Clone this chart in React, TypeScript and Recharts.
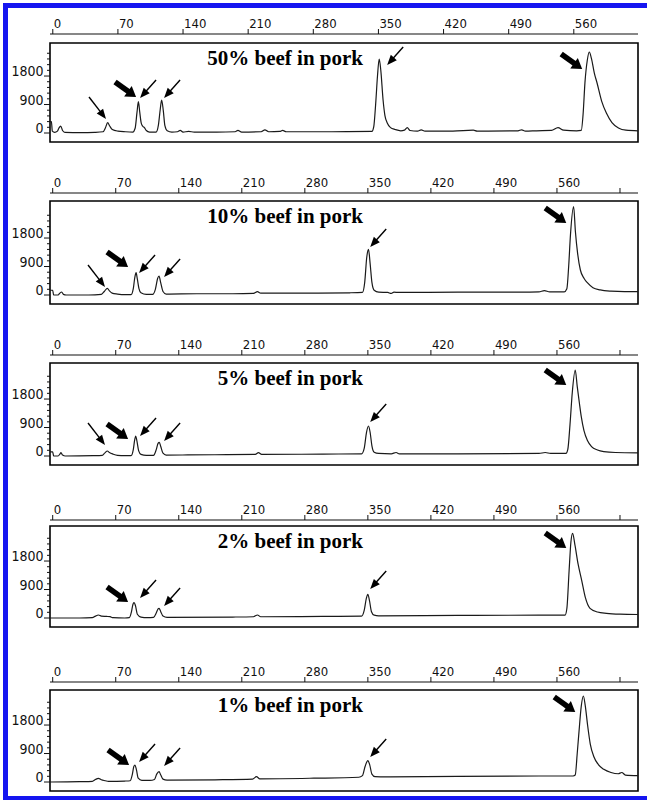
import React from "react";
import { ComposedChart, Line, XAxis, YAxis, ReferenceArea, ReferenceDot } from "recharts";

type Pt = [number, number];
type ArrowKind = "ul" | "ur" | "bold";
type Arrow = [number, number, ArrowKind];

const xTicks = [0, 70, 140, 210, 280, 350, 420, 490, 560, 630];
const yTicks = [0, 180, 360, 540, 720, 900, 1080, 1260, 1440, 1620, 1800, 1980, 2160, 2340, 2520];
const yLabelled = [0, 900, 1800];

const titles = [
  "50% beef in pork",
  "10% beef in pork",
  "5% beef in pork",
  "2% beef in pork",
  "1% beef in pork",
];

// traces, [size, signal]
const trace50: Pt[] = [
  [-3, 360], [-1.5, 360], [-0.5, 60], [2, 20], [5, 60], [6.5, 150], [8.5, 220], [10.5, 80], [13, 20],
  [30, 10], [45, 20], [54, 40], [56.5, 160], [59, 325], [61, 230], [64, 110], [70, 60], [78, 40],
  [86, 30], [88.5, 150], [90.5, 650], [92, 990], [93.5, 650], [95, 320], [96.5, 220], [98.5, 170],
  [100.5, 80], [104, 30], [111, 30], [113.5, 250], [115.5, 750], [117, 1043], [118.8, 700],
  [120.5, 230], [123, 70], [128, 30], [134, 40], [137, 80], [140, 30], [146, 50], [152, 30],
  [176, 30], [196, 40], [199, 80], [203, 30], [224, 40], [228, 100], [232, 40], [244, 50], [247, 80],
  [251, 40], [300, 40], [343, 50], [345, 200], [347, 900], [349, 1800], [350.8, 2338], [352.5, 2000],
  [355, 1043], [357, 550], [359.5, 316], [363, 170], [368, 110], [374, 70], [378, 90], [381, 170],
  [384, 80], [392, 60], [396, 100], [400, 60], [430, 60], [452, 90], [456, 60], [500, 70], [504, 100],
  [508, 60], [520, 70], [536, 80], [543, 170], [549, 90], [563, 70], [568, 80], [570, 600],
  [572, 1600], [574.5, 2300], [576.6, 2560], [579, 2350], [582, 1900], [585, 1580], [590, 1000],
  [595, 630], [601, 330], [608, 160], [616, 90], [629, 70],
];

const trace10: Pt[] = [
  [-3, 150], [0, 150], [1, 0], [6, 0], [8, 60], [10, 95], [12, 20], [15, 0], [40, 0], [54, 20],
  [57.5, 120], [60.7, 212], [63, 130], [66, 60], [72, 30], [80, 10], [87, 10], [89.5, 200],
  [91.2, 560], [92.6, 705], [94, 500], [95.8, 200], [98, 70], [104, 20], [111, 20], [114, 180],
  [116.5, 520], [118.1, 600], [120, 380], [122.5, 110], [126, 30], [160, 40], [200, 40], [223, 50],
  [227.4, 105], [231, 60], [280, 60], [330, 70], [344, 80], [346.5, 400], [348.8, 1200],
  [350.7, 1443], [352.5, 1000], [354.5, 400], [357, 150], [362, 90], [372, 80], [376, 50], [379, 90],
  [384, 80], [450, 90], [520, 90], [540, 100], [546, 140], [552, 100], [568, 100], [571, 200],
  [573, 900], [575, 1900], [578.5, 2790], [580.5, 2000], [583, 1300], [586, 790], [590, 530],
  [594, 380], [600, 230], [608, 160], [620, 120], [635, 105], [650, 105],
];

const trace5: Pt[] = [
  [-3, 130], [0, 130], [1, 0], [6, 0], [8, 60], [9.2, 105], [11, 30], [14, 0], [45, 10], [55, 20],
  [58, 100], [60.7, 158], [63, 110], [67, 60], [72, 20], [80, 10], [87, 10], [89.5, 200], [91, 500],
  [92.2, 632], [93.5, 480], [95.5, 160], [98, 50], [104, 20], [112, 20], [115, 200], [117, 400],
  [118.4, 432], [120, 300], [122.5, 90], [126, 30], [180, 40], [225, 50], [228.5, 105], [232, 50],
  [300, 60], [343, 70], [346, 250], [348.5, 750], [350.7, 948], [352.5, 750], [354.5, 320],
  [357, 120], [362, 80], [376, 70], [381.4, 110], [385, 70], [450, 70], [540, 80], [547, 110],
  [553, 80], [570, 80], [572, 200], [574.5, 1000], [577, 2000], [580.3, 2718], [582.5, 2200],
  [585, 1650], [587, 1242], [590, 800], [594, 480], [598.4, 295], [605, 190], [612, 140],
  [625, 110], [650, 100],
];

const trace2: Pt[] = [
  [-3, 0], [30, 0], [44, 10], [47.5, 60], [50.7, 95], [54, 60], [60, 50], [63.7, 41], [67, 10],
  [80, 0], [85, 10], [87.5, 200], [89, 420], [90.3, 484], [92, 380], [94, 120], [98, 30], [105, 10],
  [112, 20], [115, 160], [117, 290], [118.1, 306], [120, 200], [122.5, 60], [127, 20], [200, 30],
  [223, 40], [227.4, 95], [231, 40], [300, 50], [343, 60], [346, 250], [348.3, 620], [350, 749],
  [351.8, 550], [354, 200], [357, 90], [362, 70], [450, 80], [540, 90], [569, 90], [571, 300],
  [573.5, 1500], [575.5, 2400], [577.4, 2676], [580, 2300], [583.5, 1700], [587.4, 1200],
  [591.5, 650], [596.7, 306], [605, 190], [615, 147], [630, 120], [650, 110],
];

const trace1: Pt[] = [
  [-3, 0], [30, 10], [44, 20], [47.5, 80], [50.7, 117], [54, 70], [58.5, 40], [62, 20], [80, 30],
  [86, 40], [88.5, 250], [90, 480], [91.4, 537], [93, 380], [95, 120], [99, 50], [108, 50], [113, 80],
  [115.5, 250], [118.1, 326], [120, 220], [122.5, 90], [127, 60], [180, 70], [222, 90],
  [226.3, 168], [230, 100], [290, 120], [340, 150], [344, 200], [347, 500], [350, 674], [352, 550],
  [354.5, 250], [358, 170], [370, 160], [450, 180], [540, 190], [578, 190], [580.3, 220],
  [582.5, 900], [584.5, 1600], [587, 2400], [589.3, 2718], [591.5, 2400], [594, 1800], [597, 1200],
  [601, 800], [606, 550], [612, 400], [620, 300], [628, 260], [632, 300], [636, 220], [650, 200],
];

// arrow tips, [size, signal, kind]
const arrows50: Arrow[] = [
  [57.2, 442, "ul"], [89.5, 1138, "bold"], [93.8, 1106, "ur"], [119.6, 1106, "ur"],
  [359.4, 2149, "ur"], [569, 2022, "bold"],
];
const arrows10: Arrow[] = [
  [58.1, 253, "ul"], [83.7, 885, "bold"], [95.9, 695, "ur"], [123.7, 569, "ur"],
  [352.6, 1517, "ur"], [570.3, 2275, "bold"],
];
const arrows5: Arrow[] = [
  [58.1, 348, "ul"], [83.7, 537, "bold"], [97, 632, "ur"], [123.7, 474, "ur"],
  [352.6, 1074, "ur"], [570.3, 2244, "bold"],
];
const arrows2: Arrow[] = [
  [83.7, 506, "bold"], [97, 632, "ur"], [123.7, 379, "ur"], [352.6, 916, "ur"],
  [570.3, 2212, "bold"],
];
const arrows1: Arrow[] = [
  [84.8, 537, "bold"], [95.9, 632, "ur"], [123.7, 506, "ur"], [352.6, 790, "ur"],
  [580.3, 2212, "bold"],
];

const traces = [trace50, trace10, trace5, trace2, trace1];
const arrows = [arrows50, arrows10, arrows5, arrows2, arrows1];

// page rows in px: top axis line, box top/bottom, baseline
const layout = [
  { axisY: 34, boxTop: 43, boxBottom: 142, zeroY: 133, xMax: 629 },
  { axisY: 193, boxTop: 201, boxBottom: 304, zeroY: 295, xMax: 650 },
  { axisY: 355, boxTop: 363, boxBottom: 465, zeroY: 456, xMax: 650 },
  { axisY: 520, boxTop: 526, boxBottom: 627, zeroY: 618, xMax: 650 },
  { axisY: 682, boxTop: 690, boxBottom: 791, zeroY: 782, xMax: 650 },
];

const W = 647;
const X_MIN = -3;
const AXIS_H = 30;
const PER_PX = 31.6;
const INK = "#111";
const NARROW = "'Liberation Sans Narrow', 'Arial Narrow', 'DejaVu Sans Condensed', 'Liberation Sans', sans-serif";

const ARROW = {
  ul: { dx: -17, dy: -22, w: 1.4, head: 10, half: 4 },
  ur: { dx: 16, dy: -18, w: 1.4, head: 10, half: 4 },
  bold: { dx: -21, dy: -15, w: 5.5, head: 10, half: 6.5 },
};

function ArrowMark({ cx, cy, kind }: { cx: number; cy: number; kind: ArrowKind }) {
  if (cx == null || cy == null) return null;
  const a = ARROW[kind];
  const len = Math.hypot(a.dx, a.dy);
  const ux = -a.dx / len;
  const uy = -a.dy / len;
  const bx = cx - ux * a.head;
  const by = cy - uy * a.head;
  const nx = -uy;
  const ny = ux;
  return (
    <g>
      <line x1={cx + a.dx} y1={cy + a.dy} x2={bx + ux} y2={by + uy} stroke="#000" strokeWidth={a.w} />
      <polygon
        points={`${cx},${cy} ${bx + nx * a.half},${by + ny * a.half} ${bx - nx * a.half},${by - ny * a.half}`}
        fill="#000"
      />
    </g>
  );
}

function XTick(props: any) {
  const { x, y, payload } = props;
  return (
    <g>
      <line x1={x} x2={x} y1={y - 5} y2={y} stroke={INK} strokeWidth={1} />
      {payload.value !== 630 && (
        <text x={x + 1} y={y - 6} fontSize={13} fontFamily={NARROW} fill={INK}>
          {payload.value}
        </text>
      )}
    </g>
  );
}

function YTick(props: any) {
  const { x, y, payload } = props;
  const major = yLabelled.includes(payload.value);
  return (
    <g>
      <line x1={x - (major ? 6 : 3)} x2={x} y1={y} y2={y} stroke={INK} strokeWidth={1} />
      {major && (
        <text x={x - 6.5} y={y} textAnchor="end" fontSize={14} fontFamily={NARROW} fill={INK}>
          {payload.value}
        </text>
      )}
    </g>
  );
}

function Panel({ idx }: { idx: number }) {
  const L = layout[idx];
  const top = L.axisY - AXIS_H;
  const height = AXIS_H + (L.boxBottom - L.axisY) + 2;
  const yMin = -(L.boxBottom - L.zeroY) * PER_PX;
  const yMax = (L.zeroY - L.axisY) * PER_PX;
  const yBox = (L.zeroY - L.boxTop) * PER_PX;
  const data = traces[idx].map(([x, y]) => ({ x, y }));
  const ticks = xTicks.filter((t) => t <= L.xMax);
  const titleY = L.boxTop - top + 22;

  return (
    <div style={{ position: "absolute", left: 0, top, width: W, height }}>
      <ComposedChart width={W} height={height} data={data} margin={{ top: 0, right: 9, bottom: 2, left: 10 }}>
        <XAxis
          type="number"
          dataKey="x"
          orientation="top"
          domain={[X_MIN, L.xMax]}
          ticks={ticks}
          interval={0}
          allowDataOverflow
          height={AXIS_H}
          tickSize={0}
          tickMargin={0}
          tickLine={false}
          axisLine={{ stroke: INK, strokeWidth: 1.2 }}
          tick={<XTick />}
        />
        <YAxis
          type="number"
          domain={[yMin, yMax]}
          ticks={yTicks}
          interval={0}
          allowDataOverflow
          width={40}
          tickSize={0}
          tickMargin={0}
          tickLine={false}
          axisLine={false}
          tick={<YTick />}
        />
        <ReferenceArea
          x1={X_MIN}
          x2={L.xMax}
          y1={yMin}
          y2={yBox}
          fill="none"
          stroke="#000"
          strokeWidth={1.6}
          ifOverflow="visible"
          label={() => (
            <text
              x={363}
              y={titleY}
              textAnchor="end"
              fontSize={21}
              fontWeight="bold"
              fontFamily="'Liberation Serif', 'Times New Roman', serif"
              fill="#000"
            >
              {titles[idx]}
            </text>
          )}
        />
        <Line
          type="monotone"
          dataKey="y"
          stroke="#1a1a1a"
          strokeWidth={1.2}
          dot={false}
          activeDot={false}
          isAnimationActive={false}
        />
        {arrows[idx].map(([ax, ay, kind], i) => (
          <ReferenceDot
            key={i}
            x={ax}
            y={ay}
            r={1}
            ifOverflow="visible"
            shape={(p: any) => <ArrowMark cx={p.cx} cy={p.cy} kind={kind} />}
          />
        ))}
      </ComposedChart>
    </div>
  );
}

export default function App() {
  return (
    <div
      style={{
        position: "absolute",
        left: 0,
        top: 0,
        width: W,
        height: 802,
        overflow: "hidden",
        background: "#fff",
      }}
    >
      {/* blue scan frame: top, left and bottom edges only */}
      <div style={{ position: "absolute", left: 3, top: 3, width: 720, height: 5, background: "#1515f0" }} />
      <div style={{ position: "absolute", left: 3, top: 3, width: 5, height: 797, background: "#1515f0" }} />
      <div style={{ position: "absolute", left: 3, top: 796, width: 720, height: 4, background: "#1515f0" }} />
      {layout.map((_, i) => (
        <Panel key={i} idx={i} />
      ))}
    </div>
  );
}
